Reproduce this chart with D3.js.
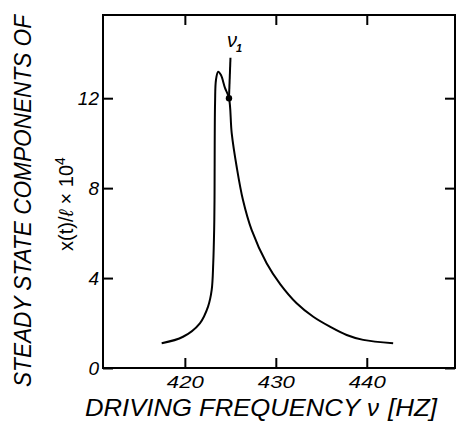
<!DOCTYPE html>
<html>
<head>
<meta charset="utf-8">
<script src="https://cdn.jsdelivr.net/npm/d3@7"></script>
<style>
    body { margin: 0; background: #fff; }
    svg text { font-family: "Liberation Sans", "DejaVu Sans", sans-serif; fill: #000; }
</style>
</head>
<body>
<div id="chart"></div>
<script>
// driving frequency (Hz) and steady state amplitude x(t)/l x 10^4
const freq = [417.45, 419.8, 421.65, 422.55, 422.95, 423.12, 423.22, 423.26, 423.32, 423.42, 423.66, 423.97, 424.41, 424.85,
    425.15, 425.7, 426.39, 427.34, 428.99, 430.5, 432.29, 434.12, 435.95, 437.79, 439.61, 442.9];
const amp = [1.10, 1.39, 1.99, 2.73, 3.47, 4.66, 6.14, 7.47, 11.79, 12.81, 13.18, 13.03, 12.46, 12.01,
    10.45, 8.94, 7.47, 6.14, 4.66, 3.72, 2.88, 2.28, 1.84, 1.47, 1.25, 1.10];
const xTicks = [420, 430, 440];
const yTicks = [0, 4, 8, 12];
const nu1 = {freq: 424.85, amp: 12.0, top: 13.8};

const width = 456, height = 422;
const plotL = 103, plotR = 455, plotT = 15, plotB = 368;

const svg = d3.select('#chart').append('svg')
    .attr('width', width)
    .attr('height', height);

const x = d3.scaleLinear().domain([411, 449.7]).range([plotL, plotR]);
const y = d3.scaleLinear().domain([0, 15.7]).range([plotB, plotT]);

// frame
svg.append('rect')
    .attr('x', plotL).attr('y', plotT)
    .attr('width', plotR - plotL).attr('height', plotB - plotT)
    .attr('fill', 'none').attr('stroke', '#000').attr('stroke-width', 2);

// inward ticks on all four sides
const tickLen = 10;
const axes = [
    d3.axisTop(x).tickValues(xTicks).tickSize(tickLen).tickFormat(''),
    d3.axisBottom(x).tickValues(xTicks).tickSize(tickLen).tickFormat(''),
    d3.axisRight(y).tickValues(yTicks).tickSize(tickLen).tickFormat(''),
    d3.axisLeft(y).tickValues(yTicks).tickSize(tickLen).tickFormat('')
];
const shifts = ['translate(0,' + plotB + ')', 'translate(0,' + plotT + ')',
    'translate(' + plotL + ',0)', 'translate(' + plotR + ',0)'];
axes.forEach((ax, i) => {
    const g = svg.append('g').attr('transform', shifts[i]).call(ax);
    g.select('.domain').remove();
    g.selectAll('line').attr('stroke', '#000').attr('stroke-width', 2);
});

// tick labels
svg.selectAll('.xlab')
    .data(xTicks)
    .enter()
    .append('text')
    .attr('x', d => x(d) - 18)
    .attr('y', plotB + 20)
    .attr('font-size', 17)
    .attr('font-style', 'italic')
    .attr('textLength', 37)
    .attr('lengthAdjust', 'spacingAndGlyphs')
    .text(d => d);

svg.selectAll('.ylab')
    .data(yTicks)
    .enter()
    .append('text')
    .attr('x', plotL - 4)
    .attr('y', d => y(d) + 7)
    .attr('text-anchor', 'end')
    .attr('font-size', 19)
    .attr('font-style', 'italic')
    .text(d => d);

// curve
const line = d3.line()
    .x(d => x(d[0]))
    .y(d => y(d[1]))
    .curve(d3.curveCatmullRom.alpha(0.5));

svg.append('path')
    .datum(freq.map((f, i) => [f, amp[i]]))
    .attr('fill', 'none')
    .attr('stroke', '#000')
    .attr('stroke-width', 2)
    .attr('d', line);

// nu_1 marker
svg.append('line')
    .attr('x1', x(nu1.freq) + 1.5).attr('x2', x(nu1.freq))
    .attr('y1', y(nu1.top)).attr('y2', y(nu1.amp))
    .attr('stroke', '#000').attr('stroke-width', 2);
svg.append('circle')
    .attr('cx', x(nu1.freq)).attr('cy', y(nu1.amp))
    .attr('r', 3.2).attr('fill', '#000');
const nuLab = svg.append('text')
    .attr('x', x(nu1.freq) - 2)
    .attr('y', y(nu1.top) - 11)
    .attr('font-size', 20)
    .attr('font-style', 'italic');
nuLab.append('tspan').text('ν');
nuLab.append('tspan').attr('dy', 5).attr('dx', -1).attr('font-size', 11).attr('font-weight', 'bold').text('1');

// axis titles
svg.append('text')
    .attr('transform', 'translate(31,201) rotate(-90)')
    .attr('text-anchor', 'middle')
    .attr('font-size', 23)
    .attr('font-style', 'italic')
    .attr('textLength', 372)
    .attr('lengthAdjust', 'spacingAndGlyphs')
    .text('STEADY STATE COMPONENTS OF');

const sub = svg.append('text')
    .attr('transform', 'translate(73,204) rotate(-90)')
    .attr('text-anchor', 'middle')
    .attr('font-size', 20);
sub.append('tspan').text('x(t)/');
sub.append('tspan').attr('font-style', 'italic').text('ℓ');
sub.append('tspan').text(' × 10');
sub.append('tspan').attr('dy', -8).attr('font-size', 14).text('4');

const xTitle = svg.append('g')
    .attr('font-size', 24)
    .attr('font-style', 'italic');
xTitle.append('text')
    .attr('x', 85).attr('y', 416)
    .attr('textLength', 275)
    .attr('lengthAdjust', 'spacingAndGlyphs')
    .text('DRIVING FREQUENCY');
xTitle.append('text')
    .attr('x', 367).attr('y', 416)
    .text('ν');
xTitle.append('text')
    .attr('x', 388).attr('y', 416)
    .attr('textLength', 49)
    .attr('lengthAdjust', 'spacingAndGlyphs')
    .text('[HZ]');
</script>
</body>
</html>
